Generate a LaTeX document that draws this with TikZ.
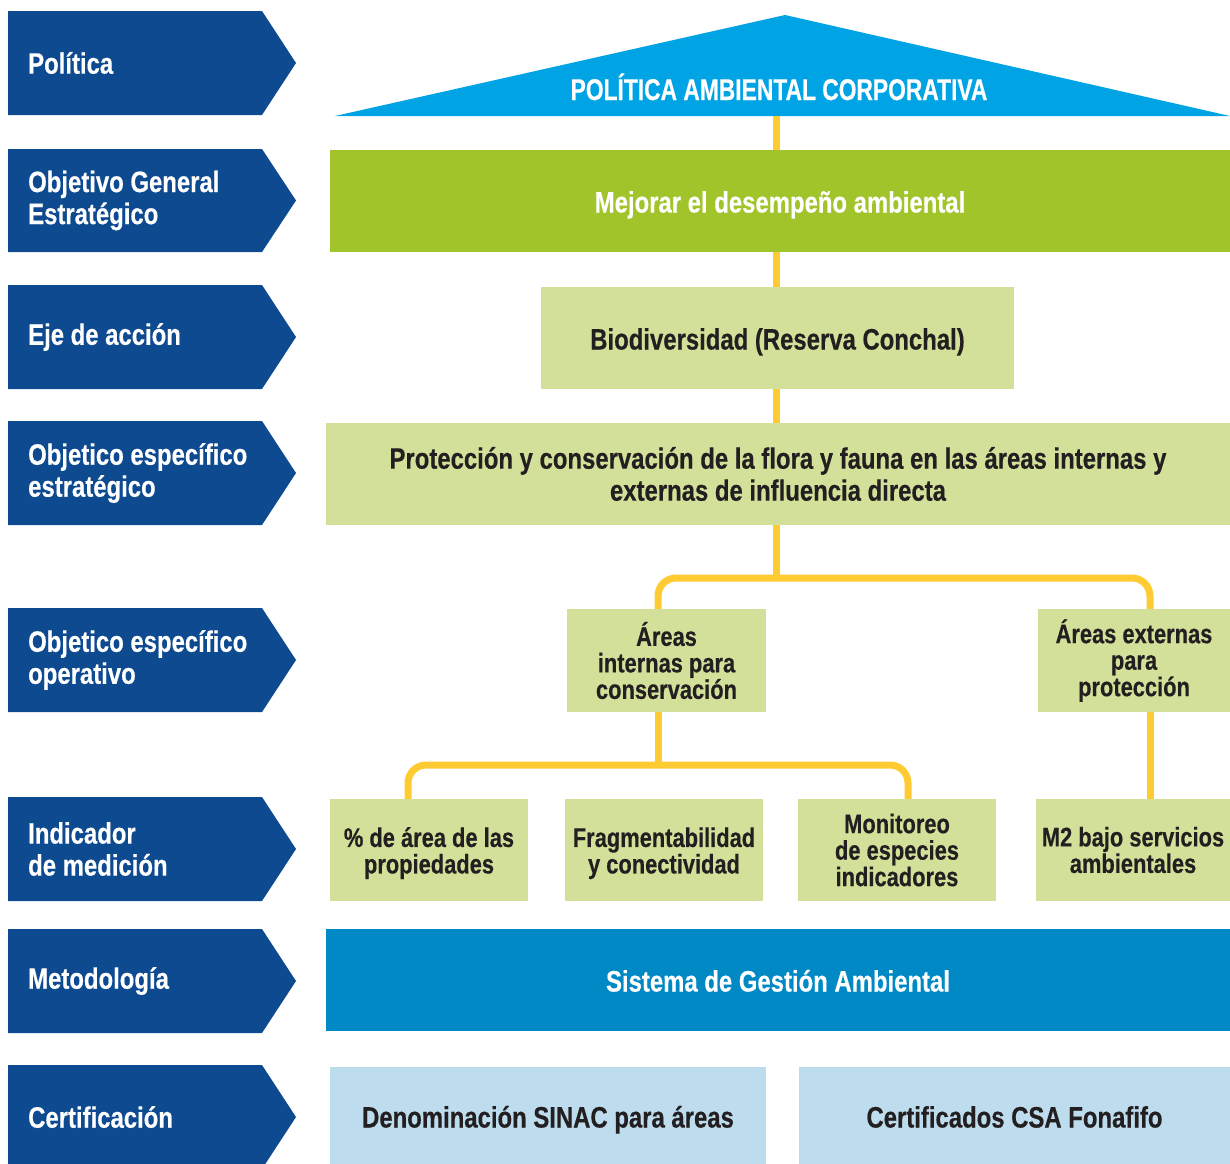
\documentclass[tikz,border=0pt]{standalone}
\usepackage{fontspec}
\setmainfont{Liberation Sans}[FakeStretch=0.81, BoldFeatures={FakeBold=0.4}]
\newfontfamily\capsfont{Liberation Sans}[FakeStretch=0.76, BoldFeatures={FakeBold=0.4}]
\usetikzlibrary{calc}
\definecolor{navy}{RGB}{14,74,143}
\definecolor{sky}{RGB}{0,163,228}
\definecolor{leaf}{RGB}{161,196,42}
\definecolor{pale}{RGB}{211,224,154}
\definecolor{gold}{RGB}{255,203,51}
\definecolor{midblue}{RGB}{0,137,197}
\definecolor{ice}{RGB}{189,220,237}
\definecolor{ink}{RGB}{35,31,32}
\tikzset{
  lab/.style={text=white, font=\bfseries\fontsize{29.5}{32}\selectfont, align=left, anchor=west, inner sep=0pt},
  bigtxt/.style={font=\bfseries\fontsize{29.5}{32}\selectfont, align=center, inner sep=0pt},
  one/.style={text height=23pt, text depth=0pt},
  smalltxt/.style={font=\bfseries\fontsize{27}{26.5}\selectfont, align=center, inner sep=0pt},
  conn/.style={draw=gold, line width=7pt},
}
\begin{document}
\begin{tikzpicture}[x=1pt,y=-1pt]
\path[use as bounding box] (0,0) rectangle (1230,1163);
% left chevrons
\foreach \t/\b/\n/\txt in {11/115/l1/{Política},149/252/l2/{Objetivo General\\Estratégico},285/389/l3/{Eje de acción},421/525/l4/{Objetico específico\\estratégico},608/712/l5/{Objetico específico\\operativo},797/901/l6/{Indicador\\de medición},929/1033/l7/{Metodología},1065/1169/l8/{Certificación}}{
  \fill[navy] (8,\t) -- (262,\t) -- (296,{(\t+\b)/2}) -- (262,\b) -- (8,\b) -- cycle;
  \node[lab] (\n) at (28,{(\t+\b)/2}) {\txt};
}
% policy triangle
\fill[sky] (335,116) -- (785,15) -- (1230,116) -- cycle;
\node[inner sep=0pt, text=white, font=\capsfont\bfseries\fontsize{30}{32}\selectfont, anchor=base] (pol) at (779,100) {POLÍTICA AMBIENTAL CORPORATIVA};
\coordinate (polbase) at (776,116);
% boxes
\node[bigtxt, one, fill=leaf, text=white, minimum width=900pt, minimum height=102pt] (obj) at (780,201) {Mejorar el desempeño ambiental};
\node[bigtxt, one, fill=pale, text=ink, minimum width=473pt, minimum height=102pt] (eje) at (777.5,338) {Biodiversidad (Reserva Conchal)};
\node[bigtxt, fill=pale, text=ink, minimum width=904pt, minimum height=102pt] (esp) at (778,474) {Protección y conservación de la flora y fauna en las áreas internas y\\externas de influencia directa};
\node[smalltxt, fill=pale, text=ink, minimum width=199pt, minimum height=103pt] (ai) at (666.5,660.5) {Áreas\\internas para\\conservación};
\node[smalltxt, fill=pale, text=ink, minimum width=192pt, minimum height=103pt] (ae) at (1134,660.5) {Áreas externas\\para\\protección};
\node[smalltxt, fill=pale, text=ink, minimum width=198pt, minimum height=102pt] (i1) at (429,850) {\rule{0pt}{26pt}\% de área de las\\propiedades};
\node[smalltxt, fill=pale, text=ink, minimum width=198pt, minimum height=102pt] (i2) at (664,850) {\rule{0pt}{26pt}Fragmentabilidad\\y conectividad};
\node[smalltxt, fill=pale, text=ink, minimum width=198pt, minimum height=102pt] (i3) at (897,850) {Monitoreo\\de especies\\indicadores};
\node[smalltxt, fill=pale, text=ink, minimum width=194pt, minimum height=102pt] (i4) at (1133,850) {M2 bajo servicios\\ambientales};
\node[bigtxt, one, fill=midblue, text=white, minimum width=904pt, minimum height=102pt] (sga) at (778,980) {Sistema de Gestión Ambiental};
\node[bigtxt, one, fill=ice, text=ink, minimum width=436pt, minimum height=98pt] (c1) at (548,1116) {Denominación SINAC para áreas};
\node[bigtxt, one, fill=ice, text=ink, minimum width=431pt, minimum height=98pt] (c2) at (1014.5,1116) {Certificados CSA Fonafifo};
% connectors
\coordinate (xa) at (776,0);
\coordinate (xb) at (658,0);
\coordinate (xc) at (1150,0);
\coordinate (xd) at (408,0);
\coordinate (xe) at (908,0);
\coordinate (j1) at (776,578);
\coordinate (j2) at (658,765);
\draw[conn] (polbase) -- (obj.north -| xa);
\draw[conn] (obj.south -| xa) -- (eje.north -| xa);
\draw[conn] (eje.south -| xa) -- (esp.north -| xa);
\draw[conn] (esp.south -| xa) -- (j1);
\draw[conn, rounded corners=18pt] (ai.north -| xb) |- (j1) -| (ae.north -| xc);
\draw[conn] (ai.south -| xb) -- (j2);
\draw[conn, rounded corners=18pt] (i1.north -| xd) |- (j2) -| (i3.north -| xe);
\draw[conn] (ae.south -| xc) -- (i4.north -| xc);
\end{tikzpicture}
\end{document}
